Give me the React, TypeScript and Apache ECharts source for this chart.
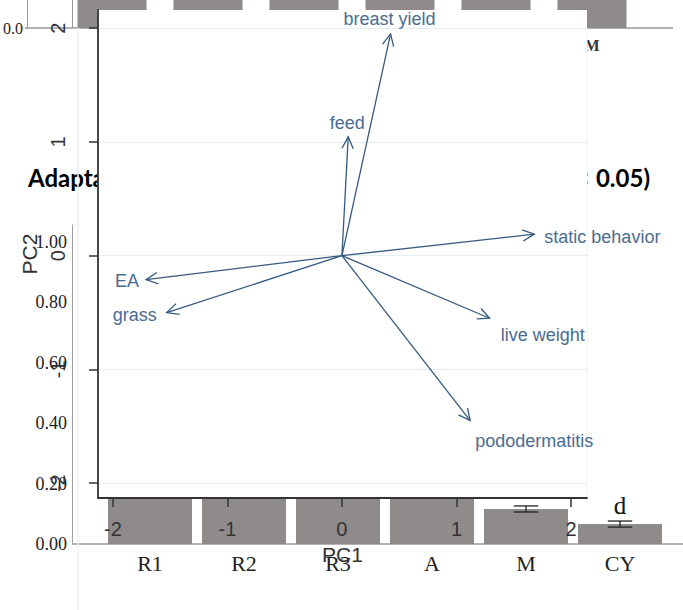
import React, { useEffect, useRef } from 'react';
import * as echarts from 'echarts';

// ---------- data: partially visible upper bar chart ----------
const topCategories = ['R1', 'R2', 'R3', 'A', 'CY', 'M'];
const topValues = [1.25, 1.2, 1.15, 1.22, 1.1, 1.18];
const topAxisMax = 1.0;

// ---------- data: adaptation bar chart ----------
const groups = ['R1', 'R2', 'R3', 'A', 'M', 'CY'];
const adaptValues = [1.0, 0.97, 0.95, 0.9, 0.116, 0.066];
const adaptErrors = [0.02, 0.02, 0.02, 0.02, 0.01, 0.01];
const adaptLetters = ['a', 'a', 'a', 'b', 'c', 'd'];
const titleLeft = 'Adaptation index';
const titleRight = 'of different groups (P < 0.05)';

// ---------- data: PCA biplot ----------
const variables = ['breast yield', 'feed', 'static behavior', 'EA', 'grass', 'live weight', 'pododermatitis'];
const pc1Loadings = [0.425, 0.055, 1.68, -1.71, -1.53, 1.29, 1.12];
const pc2Loadings = [1.95, 1.045, 0.19, -0.21, -0.5, -0.55, -1.45];
const pcTicks = [-2, -1, 0, 1, 2];

// ---------- layout / style (not data) ----------
const SANS = '"Liberation Sans", Arial, sans-serif';
const SERIF = '"Liberation Serif", "Times New Roman", serif';
const TITLE_FONT = 'Lato, "Open Sans", sans-serif';
const arrowColor = '#365a80';
const arrowLabelColor = '#4a6c92';
const barGrey = '#8f8b8b';
const BIPLOT = { left: 98, top: 10, width: 489, height: 488 };
const labelPlacement: Record<string, { dx: number; dy: number; align: string }> = {
  'breast yield': { dx: -1, dy: -15, align: 'center' },
  feed: { dx: -1, dy: -14, align: 'center' },
  'static behavior': { dx: 10, dy: 3, align: 'left' },
  EA: { dx: -7, dy: 1, align: 'right' },
  grass: { dx: -10, dy: 2, align: 'right' },
  'live weight': { dx: 11, dy: 17, align: 'left' },
  pododermatitis: { dx: 5, dy: 20, align: 'left' },
};

export default function App() {
  const ref = useRef<HTMLDivElement>(null);
  useEffect(() => {
    if (!ref.current) return;
    const chart = echarts.init(ref.current, undefined, { renderer: 'svg' });
    const isTick = (v: number, step: number) => Math.abs(v / step - Math.round(v / step)) < 1e-6;
    chart.setOption({
      animation: false,
      backgroundColor: '#ffffff',
      grid: [
        { left: 62, right: 43, top: 0, height: 28 },
        { left: 103, right: 16, top: 225, bottom: 66 },
        { left: BIPLOT.left, top: BIPLOT.top, width: BIPLOT.width, height: BIPLOT.height },
      ],
      xAxis: [
        {
          type: 'category', gridIndex: 0, data: topCategories, z: 1,
          axisLine: { show: false }, axisTick: { show: false },
          axisLabel: { margin: 9, fontSize: 16, fontWeight: 'bold', fontFamily: SERIF, color: '#333' },
        },
        {
          type: 'category', gridIndex: 1, data: groups, z: 1,
          axisLine: { show: false }, axisTick: { show: false },
          axisLabel: { margin: 8, fontSize: 22, fontFamily: SERIF, color: '#222' },
        },
        {
          type: 'value', gridIndex: 2, min: -2.13, max: 2.14, z: 6,
          axisLine: { show: true, onZero: false, lineStyle: { color: '#333', width: 1.8 } },
          axisTick: { show: true, customValues: pcTicks, length: 9, lineStyle: { color: '#333', width: 1.5 } },
          axisLabel: { customValues: pcTicks, margin: 21, fontSize: 20, fontFamily: SANS, color: '#333' },
          splitLine: { show: false },
          name: 'PC1', nameLocation: 'middle', nameGap: 36,
          nameTextStyle: { fontSize: 21, fontFamily: SANS, color: '#333' },
        },
      ],
      yAxis: [
        {
          type: 'value', gridIndex: 0, min: 0, max: topAxisMax, interval: topAxisMax, offset: 37, z: 1,
          axisLine: { show: true, lineStyle: { color: '#999', width: 1 } }, axisTick: { show: false },
          splitLine: { show: false },
          axisLabel: {
            margin: 4, fontSize: 16, fontFamily: SERIF, color: '#222',
            formatter: (v: number) => (v === 0 ? v.toFixed(1) : ''),
          },
        },
        {
          type: 'value', gridIndex: 1, min: 0, max: 1.056, interval: 0.2, offset: 31, z: 1,
          axisLine: { show: true, lineStyle: { color: '#a0a0a0', width: 1 } }, axisTick: { show: false },
          splitLine: { show: false },
          axisLabel: {
            margin: 5, fontSize: 18, fontFamily: SERIF, color: '#222',
            formatter: (v: number) => (isTick(v, 0.2) ? v.toFixed(2) : ''),
          },
        },
        {
          type: 'value', gridIndex: 2, min: -2.13, max: 2.16, z: 6,
          axisLine: { show: true, onZero: false, lineStyle: { color: '#333', width: 1.8 } },
          axisTick: { show: true, customValues: pcTicks, length: 9, lineStyle: { color: '#333', width: 1.5 } },
          axisLabel: {
            customValues: pcTicks, rotate: 90, margin: 30, fontSize: 20, fontFamily: SANS, color: '#333',
            showMinLabel: true, showMaxLabel: true, hideOverlap: false,
          },
          splitLine: { show: true, lineStyle: { color: '#e4edf0', width: 1 } },
          name: 'PC2', nameLocation: 'middle', nameGap: 58,
          nameTextStyle: { fontSize: 21, fontFamily: SANS, color: '#333' },
        },
      ],
      graphic: [
        { type: 'line', z: 1, shape: { x1: 25, y1: 28, x2: 673, y2: 28 }, style: { stroke: '#9a9a9a', lineWidth: 1.5 } },
        { type: 'line', z: 1, shape: { x1: 72.5, y1: 0, x2: 72.5, y2: 28 }, style: { stroke: '#9a9a9a', lineWidth: 1 } },
        { type: 'line', z: 1, shape: { x1: 72, y1: 544, x2: 683, y2: 544 }, style: { stroke: '#9a9a9a', lineWidth: 1.5 } },
        {
          type: 'text', z: 1, x: 28, y: 177,
          style: { text: titleLeft, fill: '#000', fontSize: 24, fontWeight: 'bold', fontFamily: TITLE_FONT, align: 'left', verticalAlign: 'middle' },
        },
        {
          type: 'text', z: 1, x: 650, y: 177,
          style: { text: titleRight, fill: '#000', fontSize: 24, fontWeight: 'bold', fontFamily: TITLE_FONT, align: 'right', verticalAlign: 'middle' },
        },
        {
          type: 'rect', z: 5,
          shape: { x: BIPLOT.left, y: BIPLOT.top, width: BIPLOT.width, height: BIPLOT.height },
          style: { fill: '#ffffff' },
        },
        { type: 'line', z: 6, shape: { x1: 78, y1: 28, x2: 78, y2: 610 }, style: { stroke: '#edf1f5', lineWidth: 1.5 } },
        { type: 'line', z: 6, shape: { x1: 587, y1: 28, x2: 587, y2: 498 }, style: { stroke: '#f0f3f5', lineWidth: 1 } },
      ],
      series: [
        {
          type: 'bar', xAxisIndex: 0, yAxisIndex: 0, data: topValues, barWidth: 69, z: 1, clip: true,
          itemStyle: { color: barGrey },
        },
        {
          type: 'bar', xAxisIndex: 1, yAxisIndex: 1, data: adaptValues, barWidth: 84, z: 1,
          itemStyle: { color: barGrey },
          label: {
            show: true, position: 'top', distance: 6, fontSize: 25, fontFamily: SERIF, color: '#111',
            formatter: (p: any) => adaptLetters[p.dataIndex],
          },
        },
        {
          type: 'custom', xAxisIndex: 1, yAxisIndex: 1, z: 2,
          encode: { x: 0, y: 1 },
          data: groups.map((g, i) => [i, adaptValues[i], adaptErrors[i]]),
          renderItem: (params: any, api: any) => {
            const i = api.value(0), v = api.value(1), e = api.value(2);
            const top = api.coord([i, v + e]);
            const bot = api.coord([i, v - e]);
            const half = api.size([1, 0])[0] * 0.13;
            const st = { stroke: '#222', lineWidth: 1.3, fill: 'none' };
            return {
              type: 'group',
              children: [
                { type: 'line', shape: { x1: top[0], y1: top[1], x2: bot[0], y2: bot[1] }, style: st },
                { type: 'line', shape: { x1: top[0] - half, y1: top[1], x2: top[0] + half, y2: top[1] }, style: st },
                { type: 'line', shape: { x1: bot[0] - half, y1: bot[1], x2: bot[0] + half, y2: bot[1] }, style: st },
              ],
            };
          },
        },
        {
          type: 'custom', xAxisIndex: 2, yAxisIndex: 2, z: 8, clip: false,
          encode: { x: 0, y: 1 },
          data: variables.map((v, i) => [pc1Loadings[i], pc2Loadings[i], i]),
          renderItem: (params: any, api: any) => {
            const idx = api.value(2);
            const o = api.coord([0, 0]);
            const t = api.coord([api.value(0), api.value(1)]);
            const ang = Math.atan2(t[1] - o[1], t[0] - o[0]);
            const hl = 13, ha = Math.PI / 7;
            const p1 = [t[0] - hl * Math.cos(ang - ha), t[1] - hl * Math.sin(ang - ha)];
            const p2 = [t[0] - hl * Math.cos(ang + ha), t[1] - hl * Math.sin(ang + ha)];
            const name = variables[idx];
            const pl = labelPlacement[name];
            const st = { stroke: arrowColor, lineWidth: 1.3, fill: 'none' };
            return {
              type: 'group',
              children: [
                { type: 'line', shape: { x1: o[0], y1: o[1], x2: t[0], y2: t[1] }, style: st },
                { type: 'polyline', shape: { points: [p1, t, p2] }, style: st },
                {
                  type: 'text', x: t[0] + pl.dx, y: t[1] + pl.dy,
                  style: {
                    text: name, fill: arrowLabelColor, fontSize: 18, fontFamily: SANS,
                    align: pl.align, verticalAlign: 'middle', textAlign: pl.align, textVerticalAlign: 'middle',
                  },
                },
              ],
            };
          },
        },
      ],
    });
    return () => chart.dispose();
  }, []);
  return <div ref={ref} style={{ position: 'fixed', left: 0, top: 0, width: 683, height: 610 }} />;
}
